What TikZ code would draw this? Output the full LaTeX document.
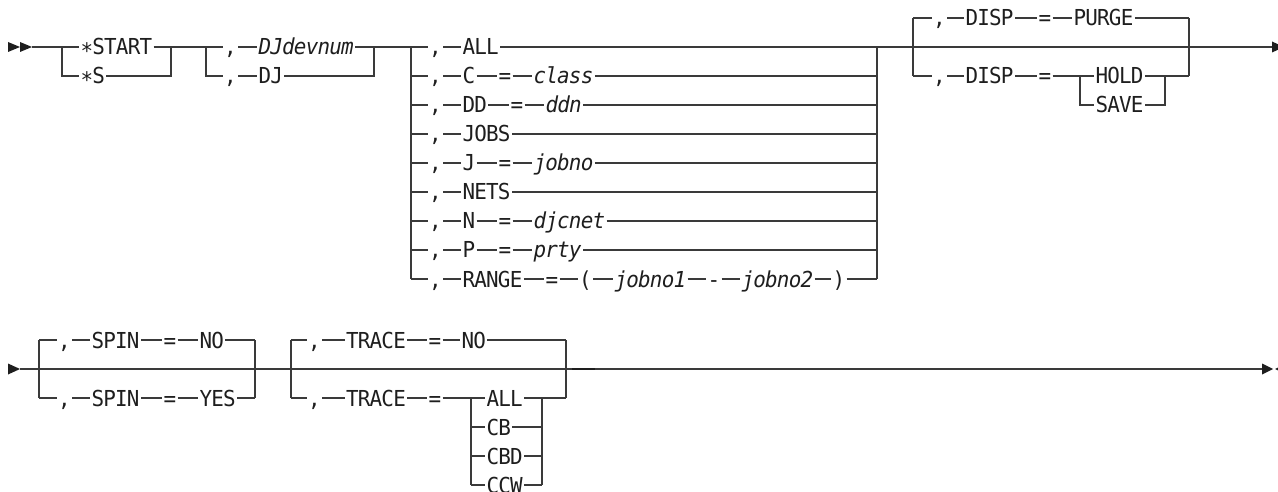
\documentclass[tikz,border=0pt]{standalone}
\usepackage{fontspec}
\newfontfamily\rrfont[FakeStretch=0.95,LetterSpace=-3.5]{DejaVu Sans Mono}
\definecolor{linec}{HTML}{3A3A3A}
\definecolor{txtc}{HTML}{1E1E1E}
\begin{document}
\begin{tikzpicture}[x=1pt,y=-1pt,
 track/.style={draw=linec,line width=1.1pt},
 tok/.style={font=\rrfont\fontsize{22}{25}\selectfont, text=txtc, anchor=west,
   inner xsep=1.5pt, inner ysep=0pt, text height=16pt, text depth=0pt, outer sep=0pt},
 var/.style={tok, font=\rrfont\fontsize{22}{25}\selectfont\itshape},
 tipfill/.style={fill=txtc}]
\useasboundingbox (0,0) rectangle (1278,492);

% ---------------- Row 1 ----------------
\fill[tipfill] (8,42) -- (20,47) -- (8,52) -- cycle;
\fill[tipfill] (20,42) -- (32,47) -- (20,52) -- cycle;
\coordinate (sA) at (32,47);
\coordinate (endA) at (1272,47);

% block 1
\coordinate (b1l) at (62,47);  \coordinate (b1lb) at (62,76);
\coordinate (b1r) at (171,47); \coordinate (b1rb) at (171,76);
\node[tok] (start) at (79,47) {∗START};
\node[tok] (s)     at (79,76) {∗S};
\draw[track] (sA) -- (b1l) -- (start.west) (start.east) -- (b1r);
\draw[track] (b1l) -- (b1lb) -- (s.west) (s.east) -- (b1rb) -- (b1r);

% block 2
\coordinate (b2l) at (206,47); \coordinate (b2lb) at (206,76);
\coordinate (b2r) at (374,47); \coordinate (b2rb) at (374,76);
\node[tok] (cm2a) at (222.5,47) {,};
\node[var] (djdev) at (257,47) {DJdevnum};
\node[tok] (cm2b) at (222.5,76) {,};
\node[tok] (dj) at (257,76) {DJ};
\draw[track] (b1r) -- (b2l) -- (cm2a.west) (cm2a.east) -- (djdev.west) (djdev.east) -- (b2r);
\draw[track] (b2l) -- (b2lb) -- (cm2b.west) (cm2b.east) -- (dj.west) (dj.east) -- (b2rb) -- (b2r);

% block 3
\coordinate (b3l) at (411,47); \coordinate (b3lb) at (411,279);
\coordinate (b3r) at (877,47); \coordinate (b3rb) at (877,279);
\draw[track] (b2r) -- (b3l);
\draw[track] (b3l) -- (b3lb);
\draw[track] (b3r) -- (b3rb);
% row 0
\node[tok] (cm30) at (427.5,47) {,};
\node[tok] (all) at (461,47) {ALL};
\draw[track] (b3l) -- (cm30.west) (cm30.east) -- (all.west) (all.east) -- (b3r);
% row 1
\node[tok] (cm31) at (427.5,76) {,};
\node[tok] (c) at (461,76) {C};
\node[tok] (eq31) at (497,76) {=};
\node[var] (class) at (532,76) {class};
\draw[track] (cm31.west -| b3l) -- (cm31.west) (cm31.east) -- (c.west) (c.east) -- (eq31.west)
  (eq31.east) -- (class.west) (class.east) -- (class.east -| b3r);
% row 2
\node[tok] (cm32) at (427.5,105) {,};
\node[tok] (dd) at (461,105) {DD};
\node[tok] (eq32) at (509,105) {=};
\node[var] (ddn) at (544,105) {ddn};
\draw[track] (cm32.west -| b3l) -- (cm32.west) (cm32.east) -- (dd.west) (dd.east) -- (eq32.west)
  (eq32.east) -- (ddn.west) (ddn.east) -- (ddn.east -| b3r);
% row 3
\node[tok] (cm33) at (427.5,134) {,};
\node[tok] (jobs) at (461,134) {JOBS};
\draw[track] (cm33.west -| b3l) -- (cm33.west) (cm33.east) -- (jobs.west) (jobs.east) -- (jobs.east -| b3r);
% row 4
\node[tok] (cm34) at (427.5,163) {,};
\node[tok] (j) at (461,163) {J};
\node[tok] (eq34) at (497,163) {=};
\node[var] (jobno) at (532,163) {jobno};
\draw[track] (cm34.west -| b3l) -- (cm34.west) (cm34.east) -- (j.west) (j.east) -- (eq34.west)
  (eq34.east) -- (jobno.west) (jobno.east) -- (jobno.east -| b3r);
% row 5
\node[tok] (cm35) at (427.5,192) {,};
\node[tok] (nets) at (461,192) {NETS};
\draw[track] (cm35.west -| b3l) -- (cm35.west) (cm35.east) -- (nets.west) (nets.east) -- (nets.east -| b3r);
% row 6
\node[tok] (cm36) at (427.5,221) {,};
\node[tok] (n) at (461,221) {N};
\node[tok] (eq36) at (497,221) {=};
\node[var] (djcnet) at (532,221) {djcnet};
\draw[track] (cm36.west -| b3l) -- (cm36.west) (cm36.east) -- (n.west) (n.east) -- (eq36.west)
  (eq36.east) -- (djcnet.west) (djcnet.east) -- (djcnet.east -| b3r);
% row 7
\node[tok] (cm37) at (427.5,250) {,};
\node[tok] (p) at (461,250) {P};
\node[tok] (eq37) at (497,250) {=};
\node[var] (prty) at (532,250) {prty};
\draw[track] (cm37.west -| b3l) -- (cm37.west) (cm37.east) -- (p.west) (p.east) -- (eq37.west)
  (eq37.east) -- (prty.west) (prty.east) -- (prty.east -| b3r);
% row 8
\node[tok] (cm38) at (427.5,279) {,};
\node[tok] (range) at (461,279) {RANGE};
\node[tok] (eq38) at (544,279) {=};
\node[tok] (lp) at (577.5,279) {(};
\node[var] (jobnoa) at (613,279) {jobno1};
\node[tok] (dash) at (706,279) {-};
\node[var] (jobnob) at (740,279) {jobno2};
\node[tok] (rp) at (831,279) {)};
\draw[track] (cm38.west -| b3l) -- (cm38.west) (cm38.east) -- (range.west) (range.east) -- (eq38.west)
  (eq38.east) -- (lp.west) (lp.east) -- (jobnoa.west) (jobnoa.east) -- (dash.west)
  (dash.east) -- (jobnob.west) (jobnob.east) -- (rp.west) (rp.east) -- (b3rb);

% block 4 (DISP)
\coordinate (b4l) at (913,47); \coordinate (b4r) at (1189,47);
\coordinate (b4tl) at (913,18); \coordinate (b4bl) at (913,76);
\coordinate (b4tr) at (1189,18); \coordinate (b4br) at (1189,76);
\draw[track] (b3r) -- (b4l) -- (b4r) -- (endA);
\draw[track] (b4tl) -- (b4bl);
\draw[track] (b4tr) -- (b4br);
\node[tok] (cm41) at (931.5,18) {,};
\node[tok] (disp1) at (964,18) {DISP};
\node[tok] (eq41) at (1037,18) {=};
\node[tok] (purge) at (1072,18) {PURGE};
\draw[track] (b4tl) -- (cm41.west) (cm41.east) -- (disp1.west) (disp1.east) -- (eq41.west)
  (eq41.east) -- (purge.west) (purge.east) -- (b4tr);
\node[tok] (cm42) at (931.5,76) {,};
\node[tok] (disp2) at (964,76) {DISP};
\node[tok] (eq42) at (1037,76) {=};
\coordinate (b5tl) at (1080,76); \coordinate (b5bl) at (1080,105);
\coordinate (b5tr) at (1165,76); \coordinate (b5br) at (1165,105);
\node[tok] (hold) at (1094,76) {HOLD};
\node[tok] (save) at (1094,105) {SAVE};
\draw[track] (b4bl) -- (cm42.west) (cm42.east) -- (disp2.west) (disp2.east) -- (eq42.west)
  (eq42.east) -- (b5tl) -- (hold.west) (hold.east) -- (b5tr) -- (b4br);
\draw[track] (b5tl) -- (b5bl) -- (save.west) (save.east) -- (b5br) -- (b5tr);
\fill[tipfill] (1272,41.5) -- (1284,47) -- (1272,52.5) -- cycle;

% ---------------- Row 2 ----------------
\fill[tipfill] (8,363.5) -- (20,369) -- (8,374.5) -- cycle;
\coordinate (sB) at (20,369);
\coordinate (endB) at (1262,369);

% SPIN block
\coordinate (p1l) at (39,369); \coordinate (p1r) at (255,369);
\coordinate (p1tl) at (39,340); \coordinate (p1bl) at (39,398);
\coordinate (p1tr) at (255,340); \coordinate (p1br) at (255,398);
\draw[track] (p1tl) -- (p1bl);
\draw[track] (p1tr) -- (p1br);
\node[tok] (cm51) at (56.5,340) {,};
\node[tok] (spin1) at (90,340) {SPIN};
\node[tok] (eq51) at (162,340) {=};
\node[tok] (no1) at (198,340) {NO};
\draw[track] (p1tl) -- (cm51.west) (cm51.east) -- (spin1.west) (spin1.east) -- (eq51.west)
  (eq51.east) -- (no1.west) (no1.east) -- (p1tr);
\node[tok] (cm52) at (56.5,398) {,};
\node[tok] (spin2) at (90,398) {SPIN};
\node[tok] (eq52) at (162,398) {=};
\node[tok] (yes) at (198,398) {YES};
\draw[track] (p1bl) -- (cm52.west) (cm52.east) -- (spin2.west) (spin2.east) -- (eq52.west)
  (eq52.east) -- (yes.west) (yes.east) -- (p1br);

% TRACE block
\coordinate (t1l) at (291,369); \coordinate (t1r) at (566,369);
\coordinate (t1tl) at (291,340); \coordinate (t1bl) at (291,398);
\coordinate (t1tr) at (566,340); \coordinate (t1br) at (566,398);
\draw[track] (t1tl) -- (t1bl);
\draw[track] (t1tr) -- (t1br);
\node[tok] (cm61) at (306.5,340) {,};
\node[tok] (trace1) at (344.5,340) {TRACE};
\node[tok] (eq61) at (427,340) {=};
\node[tok] (no2) at (460,340) {NO};
\draw[track] (t1tl) -- (cm61.west) (cm61.east) -- (trace1.west) (trace1.east) -- (eq61.west)
  (eq61.east) -- (no2.west) (no2.east) -- (t1tr);
\node[tok] (cm62) at (306.5,398) {,};
\node[tok] (trace2) at (344.5,398) {TRACE};
\node[tok] (eq62) at (427,398) {=};
\coordinate (t2tl) at (471,398); \coordinate (t2bl) at (471,485);
\coordinate (t2tr) at (542,398); \coordinate (t2br) at (542,485);
\node[tok] (tall) at (485,398) {ALL};
\node[tok] (cb) at (485,427) {CB};
\node[tok] (cbd) at (485,456) {CBD};
\node[tok] (ccw) at (485,485) {CCW};
\draw[track] (t1bl) -- (cm62.west) (cm62.east) -- (trace2.west) (trace2.east) -- (eq62.west)
  (eq62.east) -- (t2tl) -- (tall.west) (tall.east) -- (t2tr) -- (t1br);
\draw[track] (t2tl) -- (t2bl);
\draw[track] (t2tr) -- (t2br);
\draw[track] (cb.west -| t2tl) -- (cb.west) (cb.east) -- (cb.east -| t2tr);
\draw[track] (cbd.west -| t2tl) -- (cbd.west) (cbd.east) -- (cbd.east -| t2tr);
\draw[track] (t2bl) -- (ccw.west) (ccw.east) -- (t2br);

% main line of row 2
\draw[track] (sB) -- (p1l) -- (p1r) -- (t1l) -- (t1r) -- (endB);
\coordinate (thk1) at (572,369); \coordinate (thk2) at (595,369);
\draw[draw=txtc,line width=2pt] (thk1) -- (thk2);
\fill[tipfill] (1262,363.5) -- (1273,369) -- (1262,374.5) -- cycle;
\fill[tipfill] (1286,363.5) -- (1275,369) -- (1286,374.5) -- cycle;
\end{tikzpicture}
\end{document}
